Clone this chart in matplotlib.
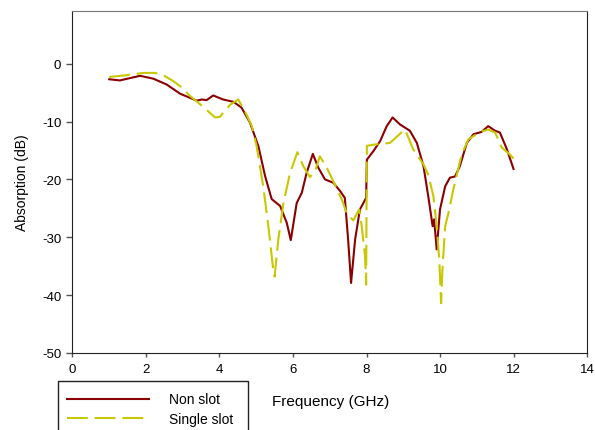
import numpy as np
import matplotlib.pyplot as plt
from matplotlib.patches import Rectangle

plt.rcParams['font.family'] = ['Liberation Sans', 'DejaVu Sans']
plt.rcParams['axes.unicode_minus'] = False

# Non slot
f_non = [1.0, 1.29, 1.84, 2.2, 2.56, 2.93, 3.38, 3.52, 3.65, 3.83, 4.10, 4.38,
         4.60, 4.83, 5.06, 5.24, 5.42, 5.65, 5.83, 5.94, 6.10, 6.24, 6.37, 6.54,
         6.69, 6.87, 7.10, 7.28, 7.41, 7.50, 7.58, 7.69, 7.82, 7.99, 8.01, 8.19,
         8.37, 8.55, 8.71, 8.91, 9.18, 9.37, 9.55, 9.68, 9.80, 9.84, 9.91, 10.0,
         10.14, 10.27, 10.41, 10.54, 10.73, 10.91, 11.13, 11.31, 11.5, 11.63,
         11.82, 12.0]
a_non = [-2.7, -2.9, -2.1, -2.6, -3.6, -5.2, -6.4, -6.2, -6.3, -5.5, -6.2, -6.6,
         -7.6, -10.2, -14.3, -19.4, -23.4, -24.6, -27.5, -30.5, -24.1, -22.3,
         -18.9, -15.6, -18.0, -20.0, -20.6, -22.0, -23.2, -30.4, -37.9, -30.4,
         -25.2, -23.2, -16.6, -15.1, -13.4, -10.8, -9.3, -10.5, -11.6, -13.7,
         -17.7, -22.9, -28.1, -26.9, -32.1, -25.2, -21.2, -19.7, -19.5, -17.7,
         -13.7, -12.2, -11.8, -10.8, -11.6, -11.9, -14.8, -18.2]

# Single slot
f_single = [1.0, 1.47, 1.93, 2.24, 2.47, 2.74, 2.97, 3.2, 3.47, 3.65, 3.88, 4.01,
            4.29, 4.51, 4.69, 4.88, 5.01, 5.19, 5.33, 5.46, 5.50, 5.60, 5.74,
            5.92, 6.12, 6.28, 6.46, 6.60, 6.73, 6.92, 7.14, 7.33, 7.46, 7.64,
            7.80, 7.87, 7.96, 7.99, 8.01, 8.19, 8.64, 9.0, 9.05, 9.27, 9.55,
            9.68, 9.82, 9.91, 9.98, 10.03, 10.06, 10.14, 10.23, 10.36, 10.45,
            10.59, 10.77, 11.09, 11.31, 11.5, 11.68, 11.90, 12.0]
a_single = [-2.3, -2.0, -1.6, -1.6, -2.0, -3.0, -4.1, -5.6, -7.0, -8.0, -9.3, -9.2,
            -7.1, -6.2, -8.2, -10.8, -14.2, -21.2, -28.1, -35.5, -36.8, -30.4,
            -24.1, -18.9, -15.3, -17.7, -19.6, -18.6, -16.0, -18.0, -20.9, -23.5,
            -25.8, -27.1, -25.2, -28.1, -33.3, -38.2, -14.2, -14.0, -13.7, -11.6,
            -11.4, -14.8, -17.4, -19.2, -22.9, -28.1, -33.9, -41.4, -36.2, -28.1,
            -25.8, -21.8, -19.4, -15.7, -13.1, -11.8, -11.4, -11.9, -14.5, -15.7,
            -16.4]

fig = plt.figure(figsize=(5.95, 4.31), dpi=100)
ax = fig.add_axes([0.1218, 0.1787, 0.8648, 0.7935])

l1, = ax.plot(f_non, a_non, color='#8B0000', lw=1.5, label='Non slot',
              solid_joinstyle='round')
l2, = ax.plot(f_single, a_single, color='#C8C800', lw=1.5, label='Single slot',
              dash_joinstyle='round')
l2.set_dashes((10, 3.3))

ax.set_xlim(0, 14)
ax.set_ylim(-50, 9.1)
ax.set_xticks(np.arange(0, 15, 2))
ax.set_yticks(np.arange(-50, 1, 10))
ax.tick_params(labelsize=9.5, length=4, width=1, color='#555555', pad=4)
ax.tick_params(axis='x', length=3)
ax.spines['top'].set_color('#777777')
for s in ['left', 'bottom', 'right']:
    ax.spines[s].set_color('#222222')

ax.set_ylabel('Absorption (dB)', fontsize=10, labelpad=9)
fig.text(0.555, 0.067, 'Frequency (GHz)', fontsize=11, ha='center', va='center')

# legend frame running off the bottom edge
fig.patches.append(Rectangle((58 / 595, -0.05), 190 / 595, 0.05 + (431 - 382) / 431,
                             transform=fig.transFigure, fill=False, lw=1,
                             edgecolor='#222222'))
fig.legend(handles=[l1, l2], loc='upper left', bbox_to_anchor=(0.103, 0.1),
           frameon=False, fontsize=10, handlelength=5.9, handletextpad=1.45,
           labelspacing=0.42, borderaxespad=0)

fig.savefig('out.png', dpi=100)
